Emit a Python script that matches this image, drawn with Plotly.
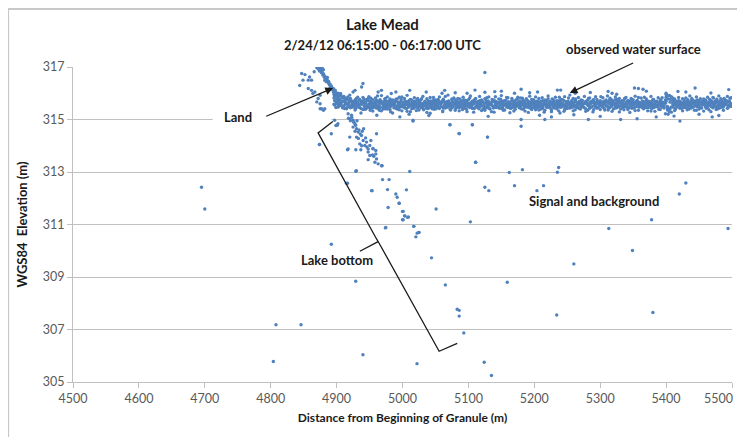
import plotly.graph_objects as go

# ---------------- data ----------------
band_x = [
4896,4897,4899,4900,4902,4903,4905,4906,4907,4909,4911,4912,4913,4915,4917,4918,4920,4921,4923,4924,
4926,4928,4929,4930,4932,4934,4935,4937,4938,4940,4942,4943,4944,4946,4948,4949,4951,4952,4954,4955,
4957,4959,4960,4962,4963,4965,4966,4968,4970,4971,4973,4974,4976,4977,4979,4981,4982,4984,4985,4987,
4988,4990,4992,4993,4995,4996,4998,4999,5001,5003,5004,5006,5007,5009,5010,5012,5014,5015,5017,5018,
5020,5021,5023,5025,5026,5028,5029,5031,5032,5034,5036,5037,5039,5040,5042,5043,5045,5047,5048,5050,
5051,5053,5054,5056,5058,5059,5061,5062,5064,5065,5067,5069,5070,5072,5073,5075,5076,5078,5080,5081,
5083,5084,5086,5087,5089,5091,5092,5094,5095,5097,5098,5100,5102,5103,5105,5106,5108,5109,5111,5113,
5114,5116,5117,5119,5120,5122,5124,5125,5127,5128,5130,5131,5133,5135,5136,5138,5139,5141,5142,5144,
5146,5147,5149,5150,5152,5153,5155,5157,5158,5160,5161,5163,5164,5166,5168,5169,5171,5172,5174,5175,
5177,5179,5180,5182,5183,5185,5186,5188,5190,5191,5193,5194,5196,5197,5199,5201,5202,5204,5205,5207,
5208,5210,5212,5213,5215,5216,5218,5219,5221,5223,5224,5226,5227,5229,5230,5232,5234,5235,5237,5238,
5240,5241,5243,5245,5246,5248,5249,5251,5252,5254,5256,5257,5259,5260,5262,5263,5265,5267,5268,5270,
5271,5273,5274,5276,5278,5279,5281,5282,5284,5285,5287,5289,5290,5292,5293,5295,5296,5298,5300,5301,
5303,5304,5306,5307,5309,5311,5312,5314,5315,5317,5318,5320,5322,5323,5325,5326,5328,5329,5331,5333,
5334,5336,5337,5339,5340,5342,5344,5345,5347,5348,5350,5351,5353,5355,5356,5358,5359,5361,5362,5364,
5366,5367,5369,5370,5372,5373,5375,5377,5378,5380,5381,5383,5384,5386,5388,5389,5391,5392,5394,5395,
5397,5399,5400,5402,5403,5405,5406,5408,5410,5411,5413,5414,5416,5417,5419,5421,5422,5424,5425,5427,
5428,5430,5432,5433,5435,5436,5438,5439,5441,5443,5444,5446,5447,5449,5450,5452,5454,5455,5457,5458,
5460,5461,5463,5465,5466,5468,5469,5471,5472,5474,5476,5477,5479,5480,5482,5483,5485,5487,5488,5490,
5491,5493,5494,5496,5497,5499]
band_y = [
315.95,315.72,316.02,315.6,315.85,315.5,315.78,315.66,315.9,315.45,315.7,315.83,315.58,315.62,315.75,315.48,315.68,315.8,315.55,315.64,
315.52,315.74,315.41,315.66,315.85,315.57,315.46,315.7,315.6,315.38,315.77,315.53,315.65,315.44,315.72,315.59,315.35,315.81,315.5,315.63,
315.47,315.69,315.56,315.9,315.42,315.61,315.75,315.33,315.58,315.67,315.49,315.8,315.54,315.4,315.71,315.62,315.29,315.57,315.74,315.51,
315.66,315.43,315.78,315.55,315.37,315.64,315.52,315.86,315.6,315.45,315.7,315.58,315.31,315.68,315.5,315.76,315.41,315.63,315.56,315.83,
315.48,315.72,315.6,315.36,315.65,315.53,315.79,315.44,315.61,315.7,315.5,315.27,315.66,315.57,315.84,315.46,315.62,315.73,315.39,315.55,
315.68,315.5,315.76,315.42,315.59,315.64,315.33,315.71,315.53,315.88,315.47,315.6,315.69,315.4,315.57,315.78,315.51,315.63,315.35,315.66,
315.54,315.8,315.45,315.62,315.7,315.38,315.58,315.74,315.49,315.65,315.3,315.6,315.82,315.52,315.67,315.43,315.59,315.75,315.48,315.63,
315.56,315.41,315.72,315.6,315.34,315.68,315.5,315.79,315.45,315.62,315.57,315.86,315.4,315.65,315.53,315.71,315.28,315.6,315.69,315.47,
315.64,315.52,315.77,315.43,315.58,315.7,315.36,315.61,315.55,315.83,315.49,315.66,315.42,315.73,315.57,315.32,315.62,315.5,315.78,315.59,
315.45,315.68,315.54,315.81,315.39,315.63,315.71,315.48,315.6,315.27,315.66,315.52,315.76,315.44,315.58,315.69,315.37,315.62,315.55,315.8,
315.5,315.64,315.42,315.72,315.57,315.35,315.67,315.53,315.79,315.46,315.6,315.3,315.65,315.74,315.49,315.58,315.41,315.7,315.56,315.85,
315.62,315.47,315.75,315.54,315.38,315.68,315.5,315.61,315.82,315.44,315.57,315.72,315.33,315.64,315.52,315.78,315.46,315.6,315.69,315.4,
315.58,315.73,315.48,315.63,315.31,315.66,315.55,315.8,315.43,315.6,315.7,315.51,315.37,315.65,315.57,315.76,315.45,315.62,315.53,315.87,
315.49,315.67,315.59,315.36,315.74,315.52,315.63,315.44,315.81,315.56,315.69,315.4,315.6,315.48,315.77,315.54,315.66,315.29,315.61,315.72,
315.46,315.58,315.8,315.51,315.65,315.38,315.7,315.55,315.62,315.43,315.75,315.57,315.34,315.68,315.5,315.84,315.47,315.63,315.56,315.71,
315.41,315.66,315.53,315.78,315.6,315.45,315.69,315.32,315.64,315.52,315.76,315.58,315.48,315.7,315.55,315.39,315.67,315.6,315.83,315.5,
315.63,315.74,315.85,315.36,315.9,315.3,315.77,315.28,315.82,315.7,315.34,315.57,315.66,315.49,315.72,315.55,315.61,315.43,315.79,315.52,
315.68,315.46,315.59,315.75,315.4,315.64,315.53,315.8,315.47,315.62,315.7,315.35,315.57,315.73,315.5,315.66,315.44,315.61,315.78,315.55,
315.48,315.69,315.58,315.37,315.76,315.52,315.64,315.45,315.82,315.6,315.5,315.71,315.41,315.65,315.56,315.79,315.47,315.62,315.53,315.74,
315.59,315.43,315.7,315.55,315.81,315.5]
band_y2 = [
315.82,315.55,315.68,315.9,315.47,315.74,315.62,315.98,315.53,315.7,315.88,315.42,315.66,315.79,315.51,315.6,315.93,315.45,315.71,315.57,
315.69,315.36,315.61,315.8,315.48,315.73,315.58,315.25,315.67,315.84,315.5,315.63,315.4,315.76,315.55,315.87,315.46,315.62,315.74,315.32,
315.6,315.82,315.44,315.52,315.7,315.35,315.66,315.91,315.47,315.58,315.78,315.41,315.63,315.86,315.5,315.38,315.72,315.56,315.25,315.68,
315.54,315.77,315.4,315.65,315.85,315.48,315.7,315.33,315.59,315.8,315.45,315.67,315.92,315.52,315.61,315.3,315.74,315.57,315.43,315.69,
315.62,315.34,315.8,315.51,315.72,315.45,315.6,315.88,315.37,315.66,315.55,315.79,315.42,315.64,315.24,315.71,315.53,315.84,315.47,315.6,
315.41,315.73,315.58,315.86,315.49,315.65,315.3,315.77,315.55,315.44,315.68,315.93,315.52,315.61,315.36,315.75,315.47,315.82,315.59,315.43,
315.7,315.52,315.33,315.78,315.6,315.47,315.85,315.56,315.66,315.39,315.73,315.5,315.62,315.9,315.45,315.58,315.28,315.69,315.8,315.54,
315.46,315.67,315.88,315.52,315.74,315.4,315.6,315.35,315.71,315.83,315.49,315.64,315.57,315.3,315.76,315.44,315.68,315.87,315.53,315.62,
315.78,315.43,315.6,315.91,315.5,315.35,315.72,315.55,315.84,315.46,315.66,315.26,315.59,315.8,315.48,315.7,315.39,315.63,315.52,315.85,
315.57,315.82,315.41,315.64,315.73,315.52,315.32,315.79,315.47,315.67,315.89,315.55,315.38,315.62,315.75,315.44,315.86,315.5,315.7,315.36,
315.65,315.4,315.83,315.56,315.28,315.74,315.61,315.46,315.9,315.53,315.69,315.37,315.78,315.58,315.44,315.85,315.51,315.63,315.33,315.72,
315.48,315.76,315.6,315.31,315.87,315.55,315.42,315.7,315.58,315.93,315.46,315.64,315.8,315.52,315.37,315.68,315.57,315.84,315.43,315.66,
315.74,315.5,315.62,315.88,315.41,315.7,315.35,315.59,315.82,315.47,315.65,315.29,315.76,315.54,315.87,315.44,315.69,315.58,315.38,315.61,
315.55,315.83,315.42,315.68,315.52,315.9,315.36,315.63,315.48,315.75,315.31,315.66,315.57,315.86,315.45,315.72,315.5,315.8,315.4,315.64,
315.69,315.37,315.56,315.84,315.47,315.73,315.6,315.27,315.8,315.52,315.66,315.44,315.89,315.58,315.71,315.35,315.63,315.49,315.82,315.54,
315.6,315.85,315.46,315.7,315.33,315.62,315.53,315.88,315.42,315.76,315.57,315.31,315.68,315.5,315.83,315.61,315.38,315.74,315.47,315.65,
315.52,315.22,315.95,315.45,315.2,315.92,315.4,315.87,315.6,315.47,315.78,315.39,315.7,315.56,315.84,315.43,315.66,315.58,315.33,315.75,
315.6,315.82,315.37,315.68,315.52,315.9,315.44,315.63,315.73,315.35,315.58,315.86,315.49,315.67,315.4,315.79,315.55,315.7,315.32,315.62,
315.74,315.43,315.85,315.56,315.61,315.3,315.7,315.84,315.48,315.66,315.38,315.77,315.54,315.9,315.45,315.62,315.72,315.35,315.8,315.58,
315.66,315.88,315.45,315.7,315.52,315.83]
band_y3 = [
315.58,315.88,315.46,315.77,315.65,315.55,315.92,315.7,315.6,315.82,315.52,315.68,315.75,315.44,315.86,315.63,315.5,315.72,315.66,315.47,
315.6,315.45,315.7,315.55,315.64,315.48,315.76,315.42,315.58,315.71,315.62,315.39,315.67,315.53,315.8,315.46,315.69,315.56,315.43,315.74,
315.54,315.63,315.75,315.48,315.66,315.52,315.44,315.69,315.61,315.4,315.58,315.72,315.47,315.65,315.55,315.78,315.5,315.62,315.68,315.45,
315.59,315.71,315.5,315.44,315.66,315.57,315.76,315.48,315.63,315.53,315.7,315.42,315.6,315.47,315.73,315.55,315.65,315.49,315.69,315.58,
315.63,315.5,315.45,315.68,315.56,315.74,315.47,315.61,315.52,315.66,315.43,315.59,315.72,315.49,315.64,315.55,315.41,315.67,315.6,315.74,
315.52,315.62,315.46,315.69,315.57,315.5,315.73,315.44,315.65,315.55,315.6,315.48,315.71,315.63,315.52,315.45,315.67,315.58,315.74,315.5,
315.61,315.47,315.66,315.55,315.49,315.72,315.6,315.44,315.68,315.53,315.64,315.75,315.46,315.58,315.5,315.7,315.62,315.42,315.66,315.56,
315.69,315.58,315.47,315.64,315.73,315.52,315.6,315.45,315.66,315.5,315.71,315.43,315.62,315.55,315.68,315.48,315.74,315.57,315.46,315.63,
315.5,315.66,315.59,315.7,315.44,315.62,315.55,315.73,315.48,315.61,315.67,315.52,315.58,315.45,315.69,315.6,315.5,315.74,315.56,315.64,
315.71,315.49,315.6,315.55,315.67,315.46,315.63,315.58,315.72,315.5,315.44,315.65,315.57,315.69,315.48,315.61,315.53,315.7,315.45,315.62,
315.58,315.7,315.53,315.46,315.64,315.6,315.5,315.73,315.56,315.66,315.45,315.62,315.54,315.48,315.68,315.59,315.72,315.5,315.63,315.47,
315.67,315.55,315.61,315.72,315.49,315.58,315.66,315.44,315.63,315.53,315.7,315.6,315.47,315.56,315.74,315.51,315.64,315.45,315.58,315.68,
315.5,315.62,315.57,315.45,315.69,315.6,315.73,315.52,315.58,315.66,315.48,315.64,315.7,315.55,315.46,315.61,315.67,315.5,315.72,315.57,
315.64,315.48,315.7,315.59,315.52,315.66,315.45,315.73,315.6,315.5,315.62,315.56,315.74,315.44,315.65,315.58,315.48,315.69,315.53,315.6,
315.57,315.72,315.49,315.63,315.55,315.68,315.46,315.61,315.7,315.52,315.58,315.65,315.47,315.6,315.73,315.54,315.66,315.5,315.62,315.45,
315.68,315.53,315.62,315.47,315.71,315.57,315.64,315.5,315.59,315.72,315.45,315.63,315.55,315.67,315.48,315.6,315.74,315.52,315.58,315.66,
315.44,315.62,315.7,315.5,315.78,315.42,315.66,315.48,315.72,315.55,315.6,315.68,315.47,315.63,315.57,315.7,315.51,315.64,315.58,315.46,
315.62,315.55,315.7,315.49,315.64,315.58,315.72,315.46,315.6,315.67,315.52,315.63,315.74,315.5,315.59,315.45,315.68,315.56,315.62,315.71,
315.53,315.6,315.47,315.66,315.55,315.72,315.49,315.61,315.57,315.7,315.64,315.45,315.68,315.52,315.6,315.73,315.56,315.48,315.65,315.58,
315.62,315.7,315.52,315.66,315.57,315.6]

edge_x = [4963,4968,4983,4990,5011,5036,5064,5080,5098,5110,5125,5150,5170,5180,5193,5205,5235,5240,5262,5312,
          5318,5325,5352,5358,5365,5370,5418,5444,5468,5495,5125,4940,4938,4928,4925,5060,5140,5285,5400,5430,
          4996,5016,5016,4961,5072,5086,5106,5129,5111,5180,5180,5208,5216,5226,5239,5282,5331,5356,5412,5421,
          5450,5480,5040,5130,5260,5300,5385,5470,5010]
edge_y = [316.05,316.11,315.99,316.05,316.11,316.05,316.11,316.02,316.0,316.12,316.04,316.08,316.0,316.15,316.02,316.05,316.12,316.12,316.0,316.07,
          316.0,315.96,316.2,316.18,316.15,316.08,316.07,316.2,316.01,316.14,316.79,316.37,316.24,316.11,316.05,316.0,316.06,316.03,316.0,316.05,
          315.1,314.97,314.94,315.16,314.8,314.47,314.8,314.33,313.37,315.0,314.74,315.16,315.0,315.1,315.25,315.0,315.0,315.03,315.13,314.94,
          315.2,315.15,315.15,315.12,315.18,315.12,315.1,315.1,315.2]

land_x = [4870,4872,4873,4875,4874,4876,4877,4878,4879,4880,4881,4882,4883,4884,4885,4886,4887,4888,4889,4890,
          4891,4892,4893,4894,4895,4896,4897,4898,4899,4900,4886,4884,4888,4890,4892,4895,4902,4904,4906,4880,
          4878,4882,4847,4852,4849,4857,4862,4844,4857,4862,4867,4875,4872,4875,4877,4880,4875,4882,4864,4870,
          4874,4892,4897,4902,4899,4901,4866,4859]
land_y = [316.98,316.92,316.99,316.95,316.85,316.88,316.78,316.82,316.7,316.74,316.62,316.66,316.55,316.58,316.48,316.5,316.42,316.38,316.32,316.35,
          316.25,316.28,316.2,316.15,316.18,316.1,316.05,316.12,316.0,315.95,316.6,316.45,316.45,316.2,316.15,316.05,316.0,315.92,315.98,316.9,
          316.97,316.5,316.75,316.71,316.5,316.5,316.5,316.3,316.18,316.11,316.05,315.92,315.8,315.6,315.41,315.35,315.41,315.41,315.99,315.67,
          314.05,314.46,314.97,314.84,314.77,314.78,316.82,316.62]

slope_x = [4915,4917.5,4922.6,4920,4925,4927.7,4925,4930.2,4932.7,4920,4937.8,4940.3,4935.2,4945.4,4950.4,4947.9,4955,4917.5,4960.6,4930.2,
           4942.8,4955.4,4950.4,4960.6,4968.2,4916.6,4929.2,4936.8,4947.9,4959.5,4954.5,4959.5,4956.5,4947.9,4958.1,4963,4969.1,4929.2,4916.6,4969.7,
           4979.7,4953.9,4977.3,4989.9,4991.9,4994.9,4978.2,5001,5003.6,5007.7,5001,4974.7,5017.2,5020.3,5022.3,5024.8,4930,4953,4915,4923,
           4926,4929,4931,4934,4928,4936,4939,4933,4944,4941,4946,4952,4938,4921,4918]
slope_y = [315.41,315.22,315.16,315.03,314.97,314.84,314.71,314.65,314.52,314.33,314.39,314.2,314.07,314.14,314.01,313.88,313.9,313.88,314.46,314.33,
           314.01,313.88,313.63,313.5,313.24,313.85,313.85,313.85,313.76,313.82,313.65,313.69,313.6,313.47,313.37,313.31,313.24,313.03,312.57,312.71,
           312.71,312.29,312.33,312.16,312.04,311.81,311.65,311.5,311.33,311.27,311.18,310.89,310.93,310.53,310.67,310.7,313.05,312.29,312.57,315.08,
           314.9,314.78,314.95,314.6,314.55,314.45,314.55,314.28,314.3,314.65,313.95,314.2,314.0,314.95,315.05]

bg_x = [4695,4700,4892,4929,4808,4846,4804,4940,5051,5103,5044,5065,5083,5086,5086,5093,5022,5124,5135,5159,
        5234,5260,5313,5349,5378,5380,5494,5011,5111,5162,5182,5237,5235,5170,5006,5125,5131,5204,5214,5420,
        5430,5072,5086,5106,5129,4874,4995,5000,5003,5009,5000,4974,5017,5025]
bg_y = [312.42,311.59,310.25,308.84,307.18,307.18,305.78,306.04,311.59,311.1,309.73,308.7,307.77,307.73,307.51,306.87,305.7,305.75,305.25,308.8,
        307.55,309.5,310.85,310.01,311.18,307.65,310.85,313.02,313.37,312.98,313.09,313.17,312.99,312.48,312.32,312.42,312.29,312.29,312.48,312.16,
        312.58,314.8,314.46,314.8,314.33,314.05,311.81,311.5,311.33,311.29,311.18,310.87,310.93,310.7]

x_ticks = [4500, 4600, 4700, 4800, 4900, 5000, 5100, 5200, 5300, 5400, 5500]
x_labels = ["4500", "4600", "4700", "4800", "4900", "5000", "5100", "5200", "5300", "5400", "5500"]
y_ticks = [305, 307, 309, 311, 313, 315, 317]

all_x = band_x + band_x + band_x + edge_x + land_x + slope_x + bg_x
all_y = band_y + band_y2 + band_y3 + edge_y + land_y + slope_y + bg_y

FONT = "Lato"
BLUE = "#4F81BD"
GRID = "#C0C0C0"
INK = "#1a1a1a"
TICK = "#595959"

fig = go.Figure()
fig.add_trace(go.Scatter(
    x=all_x, y=all_y, mode="markers",
    marker=dict(size=3.4, color=BLUE, line=dict(width=0)),
    showlegend=False, cliponaxis=True,
))

brace = ("M 4894.3,314.92 L 4871.9,314.49 L 4960.6,310.45 L 4965.6,310.24 "
         "L 5055.6,306.17 L 5083,306.47 M 4963,310.35 L 4935.3,309.98")

def ann(text, x, y, size=13, ref="data", color=INK, xanchor="center"):
    d = dict(text=text, x=x, y=y, showarrow=False, xanchor=xanchor, yanchor="middle",
             font=dict(size=size, family=FONT, color=color))
    if ref == "paper":
        d.update(xref="paper", yref="paper")
    else:
        d.update(xref="x", yref="y")
    return d

def arrow(x, y, ax, ay):
    return dict(text="", x=x, y=y, ax=ax, ay=ay, xref="x", yref="y", axref="x", ayref="y",
                showarrow=True, arrowhead=2, arrowsize=1.2, arrowwidth=1.3, arrowcolor=INK)

# last x tick label sits at the right edge of the page: drawn as an annotation
tick_text = x_labels[:-1] + [""]

# page has an 8px body margin: the figure is sized/margined to compensate
fig.update_layout(
    width=737, height=429,
    margin=dict(l=65, r=13, t=59, b=55),
    paper_bgcolor="white", plot_bgcolor="white",
    font=dict(family=FONT, color=TICK),
    xaxis=dict(range=[4500, 5500], tickvals=x_ticks, ticktext=tick_text, showgrid=False,
               showline=True, linecolor=GRID, linewidth=1,
               ticks="outside", ticklen=5, tickcolor=GRID,
               tickfont=dict(size=12.5, family=FONT, color=TICK),
               zeroline=False,
               title=dict(text="<b>Distance from Beginning of Granule (m)</b>",
                          font=dict(size=12, family=FONT, color=INK), standoff=8)),
    yaxis=dict(range=[305, 317], tickvals=y_ticks, showgrid=True, gridcolor=GRID, gridwidth=1,
               showline=True, linecolor=GRID, linewidth=1,
               ticks="outside", ticklen=5, tickcolor=GRID,
               tickfont=dict(size=12.5, family=FONT, color=TICK),
               zeroline=False,
               title=dict(text="<b>WGS84  Elevation (m)</b>",
                          font=dict(size=13, family=FONT, color=INK), standoff=12)),
    shapes=[
        dict(type="rect", xref="x", yref="y", x0=4712, x1=4892, y0=314.85, y1=315.2,
             fillcolor="white", line=dict(width=0), layer="between"),
        dict(type="path", path=brace, xref="x", yref="y",
             line=dict(color=INK, width=1.3)),
        dict(type="rect", xref="paper", yref="paper", x0=-0.0985, x1=1.05, y0=-0.25, y1=1.184,
             line=dict(color="#C8C8C8", width=2), layer="below"),
    ],
    annotations=[
        ann("<b>Lake Mead</b>", 0.469, 1.135, size=15, ref="paper"),
        ann("<b>2/24/12 06:15:00 - 06:17:00 UTC</b>", 0.469, 1.07, size=13, ref="paper"),
        ann("<b>observed water surface</b>", 0.851, 1.057, size=13, ref="paper"),
        arrow(5253.7, 316.01, 5352.2, 317.18),
        ann("<b>Land</b>", 4750, 315.11),
        arrow(4894.7, 316.2, 4791, 315.1),
        ann("<b>Signal and background</b>", 5290.5, 311.88),
        ann("<b>Lake bottom</b>", 4899.9, 309.63),
        ann(x_labels[-1], 1.004, -0.052, size=12.5, ref="paper", color=TICK, xanchor="right"),
    ],
)

fig.write_html("out.html")
